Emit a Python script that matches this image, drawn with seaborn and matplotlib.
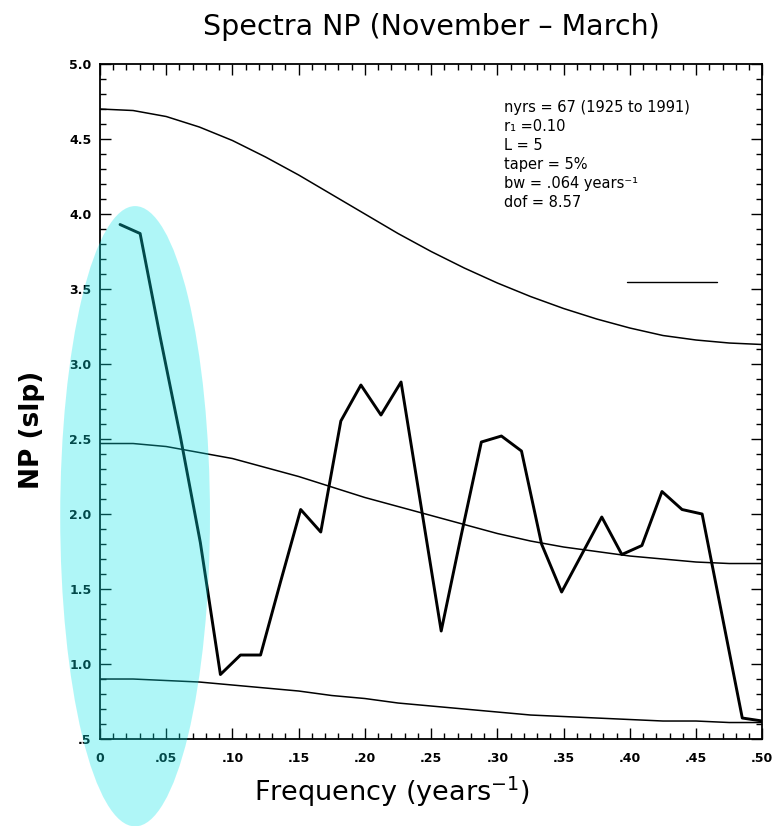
import numpy as np
import pandas as pd
import matplotlib
matplotlib.use("Agg")
import matplotlib.pyplot as plt
from matplotlib.patches import Ellipse
from matplotlib.ticker import MultipleLocator, FixedLocator
import seaborn as sns

# DATA
n_freq = 66
spec_k = list(range(1, 34))
spec_vals = [3.93, 3.87, 3.18, 2.52, 1.81, 0.93, 1.06, 1.06, 1.55, 2.03,
             1.88, 2.62, 2.86, 2.66, 2.88, 2.05, 1.22, 1.86, 2.48, 2.52,
             2.42, 1.80, 1.48, 1.73, 1.98, 1.73, 1.79, 2.15, 2.03, 2.00,
             1.32, 0.64, 0.62]

curve_freq = [0.0, 0.025, 0.05, 0.075, 0.10, 0.125, 0.15, 0.175, 0.20, 0.225, 0.25,
              0.275, 0.30, 0.325, 0.35, 0.375, 0.40, 0.425, 0.45, 0.475, 0.50]
upper_bound = [4.70, 4.69, 4.65, 4.58, 4.49, 4.38, 4.26, 4.13, 4.00, 3.87, 3.75,
               3.64, 3.54, 3.45, 3.37, 3.30, 3.24, 3.19, 3.16, 3.14, 3.13]
red_noise = [2.47, 2.47, 2.45, 2.41, 2.37, 2.31, 2.25, 2.18, 2.11, 2.05, 1.99,
             1.93, 1.87, 1.82, 1.78, 1.75, 1.72, 1.70, 1.68, 1.67, 1.67]
lower_bound = [0.90, 0.90, 0.89, 0.88, 0.86, 0.84, 0.82, 0.79, 0.77, 0.74, 0.72,
               0.70, 0.68, 0.66, 0.65, 0.64, 0.63, 0.62, 0.62, 0.61, 0.61]

key_line_x = [0.398, 0.466]
key_line_y = [3.55, 3.55]

x_ticks = [0, 0.05, 0.10, 0.15, 0.20, 0.25, 0.30, 0.35, 0.40, 0.45, 0.50]
x_ticklabels = ["0", ".05", ".10", ".15", ".20", ".25", ".30", ".35", ".40", ".45", ".50"]
y_ticks = [0.5, 1.0, 1.5, 2.0, 2.5, 3.0, 3.5, 4.0, 4.5, 5.0]
y_ticklabels = [".5", "1.0", "1.5", "2.0", "2.5", "3.0", "3.5", "4.0", "4.5", "5.0"]

info_lines = ["nyrs = 67 (1925 to 1991)", "r\u2081 =0.10", "L = 5", "taper = 5%",
              "bw = .064 years\u207b\u00b9", "dof = 8.57"]

spec = pd.DataFrame({"freq": [k / n_freq for k in spec_k], "np": spec_vals})
curves = pd.DataFrame({"freq": curve_freq, "upper": upper_bound,
                       "mid": red_noise, "lower": lower_bound})

# PLOT
sns.set_style("ticks")
plt.rcParams['font.family'] = ['DejaVu Sans']
plt.rcParams.update({"text.color": "black", "axes.labelcolor": "black",
                     "axes.edgecolor": "black", "xtick.color": "black",
                     "ytick.color": "black"})

fig = plt.figure(figsize=(7.72, 8.26), dpi=100)
ax = fig.add_axes([0.1295, 0.1053, 0.858, 0.8172])

for col in ["upper", "mid", "lower"]:
    sns.lineplot(data=curves, x="freq", y=col, ax=ax, color="black", lw=1.1, estimator=None)
sns.lineplot(data=spec, x="freq", y="np", ax=ax, color="black", lw=2.1, estimator=None, sort=False)
ax.plot(key_line_x, key_line_y, color="black", lw=1.0)

ax.set_xlim(0, 0.5)
ax.set_ylim(0.5, 5.0)
ax.xaxis.set_major_locator(FixedLocator(x_ticks))
ax.set_xticklabels(x_ticklabels, fontsize=9, fontweight="bold")
ax.xaxis.set_minor_locator(MultipleLocator(0.01))
ax.yaxis.set_major_locator(FixedLocator(y_ticks))
ax.set_yticklabels(y_ticklabels, fontsize=9, fontweight="bold")
ax.yaxis.set_minor_locator(MultipleLocator(0.1))
ax.tick_params(which="both", direction="in", top=True, right=True, width=1.0)
ax.tick_params(which="major", length=8)
ax.tick_params(axis="x", which="major", pad=9)
ax.tick_params(axis="y", which="major", pad=6)
ax.tick_params(which="minor", length=4)
for s in ax.spines.values():
    s.set_linewidth(1.3)

ax.set_xlabel("Frequency (years$^{-1}$)", fontsize=19.5)
ax.xaxis.set_label_coords(0.441, -0.052)
ax.set_ylabel("NP (slp)", fontsize=19, fontweight="bold")
ax.yaxis.set_label_coords(-0.083, 0.458)
ax.set_title("Spectra NP (November \u2013 March)", fontsize=20.5, pad=21)

for i, line in enumerate(info_lines):
    ax.text(0.61, 0.936 - i * 0.0281, line, transform=ax.transAxes,
            fontsize=10.5, va="center", ha="left")

# cyan highlight ellipse over the low-frequency end
ell = Ellipse((0.175, 0.375), 0.194, 0.751, transform=fig.transFigure,
              facecolor=(8/255, 230/255, 233/255), alpha=0.32, edgecolor="none",
              zorder=10, clip_on=False)
fig.patches.append(ell)

plt.savefig("out.png", dpi=100)
plt.close()
